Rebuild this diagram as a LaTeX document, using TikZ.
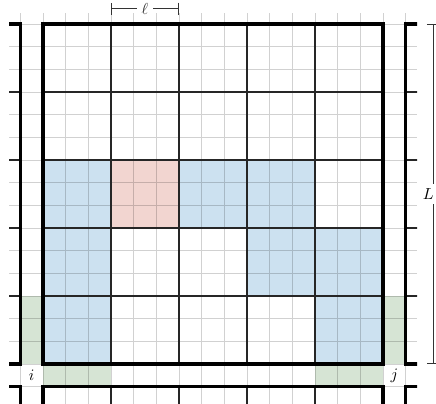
\documentclass[tikz,border=0pt]{standalone}
\usetikzlibrary{arrows.meta}
\definecolor{blueF}{RGB}{204,225,240}
\definecolor{redF}{RGB}{242,213,208}
\definecolor{greenF}{RGB}{214,228,212}
\tikzset{
  boxline/.style={line width=2pt, black},
  coarseline/.style={line width=0.7pt, black!85},
  fineline/.style={line width=0.6pt, black, draw opacity=0.18},
  dimline/.style={line width=0.5pt, black!80, {Bar[width=7.5pt]}-{Bar[width=7.5pt]}},
  dimlabel/.style={fill=white, inner sep=3pt},
  celllabel/.style={fill=white, inner sep=0pt, minimum size=0.46cm},
}
\begin{document}
\begin{tikzpicture}[x=0.5cm, y=0.5cm]
\useasboundingbox (-1.897,-1.72) rectangle (17.336,16.059);
% fills
\fill[blueF] (0,0) rectangle (3,9);
\fill[blueF] (6,6) rectangle (12,9);
\fill[blueF] (9,3) rectangle (15,6);
\fill[blueF] (12,0) rectangle (15,3);
\fill[redF] (3,6) rectangle (6,9);
\fill[greenF] (-1,0) rectangle (0,3);
\fill[greenF] (0,-1) rectangle (3,0);
\fill[greenF] (15,0) rectangle (16,3);
\fill[greenF] (12,-1) rectangle (15,0);
% fine grid
\draw[fineline] (-1.5,-1.8) grid[step=1] (16.5,15.5);
% labels i, j
\node[celllabel] (i) at (-0.5,-0.5) {$i$};
\node[celllabel] (j) at (15.5,-0.5) {$j$};
% coarse lines and boxes (periodic copies)
\begin{scope}
\clip (-1.5,-1.8) rectangle (16.5,15.5);
\foreach \ox in {-16,0,16}{
  \foreach \oy in {-16,0,16}{
    \foreach \k in {3,6,9,12}{
      \draw[coarseline] (\ox+\k,\oy) -- (\ox+\k,\oy+15);
      \draw[coarseline] (\ox,\oy+\k) -- (\ox+15,\oy+\k);
    }
    \draw[boxline] (\ox,\oy) rectangle (\ox+15,\oy+15);
  }
}
\end{scope}
% dimension l
\coordinate (l1) at (3,15.68);
\coordinate (l2) at (6,15.68);
\draw[dimline] (l1) -- node[dimlabel] (ell) {$\ell$} (l2);
% dimension L
\coordinate (L1) at (17.2,15);
\coordinate (L2) at (17.2,0);
\draw[dimline] (L1) -- (L2);
\node[dimlabel, inner xsep=1pt] (bigL) at (17.0,7.5) {$L$};
\end{tikzpicture}
\end{document}
